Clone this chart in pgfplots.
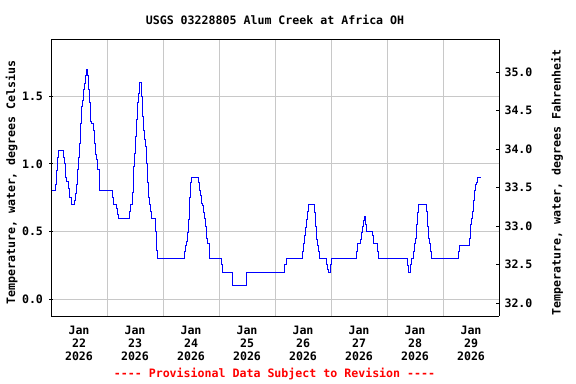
\documentclass[border=0pt]{standalone}
\usepackage{pgfplots}
\pgfplotsset{compat=1.18}
\usepackage{fontspec}
\setmainfont{DejaVu Sans Mono}
\definecolor{gridgray}{RGB}{200,200,200}
\definecolor{usgsblue}{RGB}{0,0,255}
\definecolor{usgsred}{RGB}{255,0,0}
\newcommand{\lbl}{\fontsize{11.6bp}{13bp}\selectfont\bfseries}
\begin{document}
\begin{tikzpicture}
\useasboundingbox (0,0) rectangle (576bp,384bp);
\begin{axis}[
  at={(51bp,68bp)}, anchor=south west,
  scale only axis, width=448bp, height=276.7bp,
  xmin=0, xmax=192, ymin=-0.123, ymax=1.919,
  axis y line*=left, axis x line*=box,
  axis line style={line width=1bp, black},
  font=\lbl,
  /pgf/number format/assume math mode=true,
  /pgf/number format/.cd, fixed, fixed zerofill, precision=1, /pgfplots/.cd,
  xtick={24,48,72,96,120,144,168}, xticklabels={},
  extra x ticks={12,36,60,84,108,132,156,180},
  extra x tick labels={Jan\\22\\2026,Jan\\23\\2026,Jan\\24\\2026,Jan\\25\\2026,Jan\\26\\2026,Jan\\27\\2026,Jan\\28\\2026,Jan\\29\\2026},
  extra x tick style={grid=none, major tick length=0pt, xticklabel style={align=center, font=\lbl, yshift=-7bp}},
  x tick style={draw=none},
  ytick={0,0.5,1.0,1.5},
  y tick style={black, line width=0.8bp},
  major tick length=3bp,
  tick align=center,
  yticklabel style={font=\lbl, xshift=-3bp},
  grid=major,
  major grid style={gridgray, line width=0.8bp},
  ylabel={Temperature, water, degrees Celsius},
  ylabel style={at={(axis description cs:-0.0877,0.4825)}, anchor=center, font=\lbl},
  title={USGS 03228805 Alum Creek at Africa OH},
  title style={at={(axis description cs:0.5,1.048)}, anchor=center, font=\lbl},
  xlabel={-{}-{}-{}- Provisional Data Subject to Revision -{}-{}-{}-},
  xlabel style={at={(axis description cs:0.4989,-0.2096)}, anchor=center, font=\lbl, text=usgsred},
]
\addplot[const plot, usgsblue, line width=0.9bp] coordinates {
(0.25,0.80)(2.0,0.85)(2.45,0.95)(2.9,1.05)(3.1,1.10)(5.3,1.05)(5.9,1.00)(6.3,0.90)(6.7,0.87)(7.3,0.82)(7.7,0.79)(8.1,0.75)(8.7,0.70)(10.0,0.73)(10.4,0.78)(10.8,0.85)(11.3,0.96)(11.9,1.05)(12.3,1.15)(12.7,1.30)(13.2,1.42)(13.6,1.47)(14.0,1.55)(14.4,1.59)(14.9,1.65)(15.1,1.70)(15.6,1.65)(16.2,1.55)(16.6,1.45)(17.0,1.31)(17.4,1.30)(18.3,1.25)(18.7,1.15)(19.2,1.07)(19.6,1.03)(20.0,0.96)(20.7,0.80)(26.3,0.75)(26.7,0.70)(28.0,0.67)(28.4,0.63)(28.8,0.60)(33.6,0.65)(34.0,0.70)(34.7,0.79)(35.3,0.98)(35.7,1.08)(36.1,1.20)(36.5,1.33)(37.0,1.45)(37.4,1.52)(37.8,1.60)(38.7,1.50)(39.1,1.35)(39.6,1.25)(40.0,1.18)(40.4,1.13)(40.8,1.00)(41.3,0.86)(41.7,0.75)(42.1,0.70)(42.6,0.65)(43.0,0.60)(44.7,0.50)(45.1,0.36)(45.6,0.30)(57.1,0.35)(57.6,0.40)(58.0,0.43)(58.6,0.49)(59.0,0.59)(59.4,0.75)(59.9,0.86)(60.3,0.90)(63.3,0.86)(63.7,0.80)(64.2,0.77)(64.6,0.71)(65.0,0.69)(65.4,0.64)(65.9,0.60)(66.3,0.54)(66.7,0.45)(67.2,0.41)(67.7,0.35)(68.1,0.30)(73.0,0.26)(73.6,0.20)(77.9,0.10)(83.9,0.20)(100.0,0.26)(100.8,0.30)(107.7,0.35)(108.1,0.41)(108.6,0.47)(109.0,0.53)(109.4,0.59)(109.8,0.65)(110.3,0.70)(112.8,0.64)(113.3,0.54)(113.7,0.44)(114.1,0.40)(114.6,0.35)(115.0,0.30)(118.2,0.26)(118.6,0.22)(119.0,0.20)(119.6,0.26)(120.0,0.30)(131.0,0.35)(131.4,0.41)(132.7,0.44)(133.2,0.49)(133.6,0.54)(134.0,0.58)(134.4,0.61)(134.9,0.55)(135.3,0.50)(137.9,0.47)(138.3,0.41)(140.0,0.35)(140.4,0.30)(152.9,0.25)(153.4,0.20)(153.9,0.26)(154.3,0.30)(155.3,0.35)(155.7,0.41)(156.1,0.45)(156.6,0.55)(157.0,0.64)(157.4,0.70)(160.8,0.65)(161.3,0.54)(161.7,0.45)(162.1,0.41)(162.6,0.35)(163.0,0.30)(174.7,0.35)(175.2,0.40)(179.3,0.45)(179.7,0.55)(180.1,0.60)(180.6,0.65)(181.0,0.73)(181.4,0.80)(181.9,0.85)(182.3,0.86)(182.7,0.90)(184.2,0.90)
};
\end{axis}
\begin{axis}[
  at={(51bp,68bp)}, anchor=south west,
  scale only axis, width=448bp, height=276.7bp,
  xmin=0, xmax=192, ymin=31.835, ymax=35.424,
  axis y line*=right, axis x line=none,
  axis line style={line width=1bp, black},
  font=\lbl,
  /pgf/number format/assume math mode=true,
  /pgf/number format/.cd, fixed, fixed zerofill, precision=1, /pgfplots/.cd,
  ytick={32,32.5,33,33.5,34,34.5,35},
  y tick style={black, line width=0.8bp},
  major tick length=3bp,
  tick align=inside,
  yticklabel style={font=\lbl, xshift=2bp},
  ylabel={Temperature, water, degrees Fahrenheit},
  ylabel style={at={(axis description cs:1.1295,0.4825)}, anchor=center, font=\lbl},
]
\end{axis}
\end{tikzpicture}
\end{document}
